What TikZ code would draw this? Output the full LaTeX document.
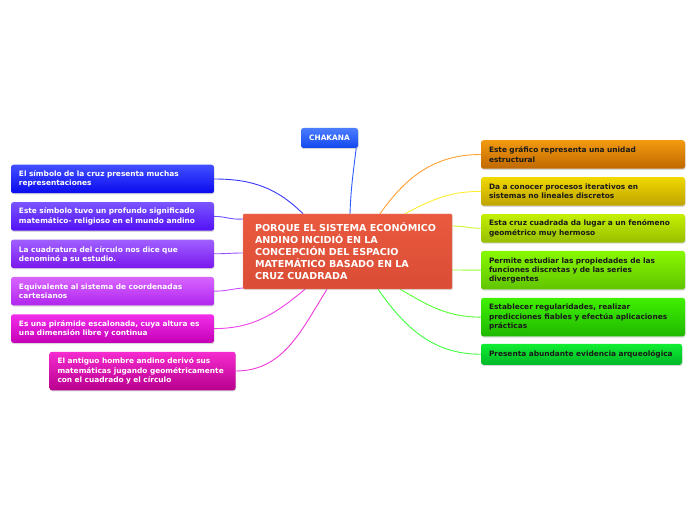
\documentclass[tikz,border=0pt]{standalone}
\usepackage{fontspec}
\setmainfont{DejaVu Sans}
\usepackage{tikz}
\usetikzlibrary{positioning, shadows, backgrounds}
\usepackage{xcolor}
\definecolor{CoreRed}{HTML}{E95A3F}
\definecolor{CoreRedDark}{HTML}{DA4C35}
\definecolor{TextDark}{HTML}{1A1A1A}
\definecolor{ChakTop}{HTML}{4C7DFF}
\definecolor{ChakBot}{HTML}{1148EE}
\definecolor{ChakLink}{HTML}{2E5BFF}
\definecolor{LeftA}{HTML}{4150FF}
\definecolor{LeftAd}{HTML}{0A0AEE}
\definecolor{LeftB}{HTML}{7A55FF}
\definecolor{LeftBd}{HTML}{5210F5}
\definecolor{LeftC}{HTML}{A060FF}
\definecolor{LeftCd}{HTML}{7A18EE}
\definecolor{LeftD}{HTML}{D865FF}
\definecolor{LeftDd}{HTML}{B025EE}
\definecolor{LeftE}{HTML}{F22EEC}
\definecolor{LeftEd}{HTML}{C500B5}
\definecolor{LeftF}{HTML}{F52BCF}
\definecolor{LeftFd}{HTML}{B8008E}
\definecolor{RightA}{HTML}{F39A10}
\definecolor{RightAd}{HTML}{BF6800}
\definecolor{RightB}{HTML}{F0D800}
\definecolor{RightBd}{HTML}{BFA300}
\definecolor{RightC}{HTML}{C4F000}
\definecolor{RightCd}{HTML}{98BE00}
\definecolor{RightD}{HTML}{88F800}
\definecolor{RightDd}{HTML}{60C400}
\definecolor{RightE}{HTML}{40F000}
\definecolor{RightEd}{HTML}{1FB800}
\definecolor{RightF}{HTML}{10EE30}
\definecolor{RightFd}{HTML}{00B828}
\definecolor{LinkLA}{HTML}{3A3AFF}
\definecolor{LinkLB}{HTML}{7050FF}
\definecolor{LinkLC}{HTML}{9A50FF}
\definecolor{LinkLD}{HTML}{C850FF}
\definecolor{LinkLE}{HTML}{F040E8}
\definecolor{LinkLF}{HTML}{F03ADA}
\definecolor{LinkRA}{HTML}{FFA030}
\definecolor{LinkRB}{HTML}{FFEE30}
\definecolor{LinkRC}{HTML}{CCF530}
\definecolor{LinkRD}{HTML}{99FF30}
\definecolor{LinkRE}{HTML}{55FF30}
\definecolor{LinkRF}{HTML}{40FF40}
\newcommand{\leaffont}{\fontsize{7.4}{9.2}\selectfont\bfseries}
\newcommand{\corefont}{\fontsize{9.6}{12}\selectfont\bfseries}
\tikzset{
  corebox/.style={draw=CoreRed!70!white, thin, rounded corners=1pt, align=left,
    text width=185pt, inner xsep=12pt, minimum height=75pt, font=\corefont,
    top color=CoreRed, bottom color=CoreRedDark, text=white,
    drop shadow={opacity=0.3, shadow xshift=0.6pt, shadow yshift=-1.2pt}},
  leaf/.style={rounded corners=2.5pt, align=left, inner xsep=8pt, inner ysep=0pt,
    font=\leaffont, drop shadow={opacity=0.3, shadow xshift=0.6pt, shadow yshift=-1.2pt}},
  lbox/.style 2 args={leaf, text width=187pt, top color=#1, bottom color=#2, text=white},
  rbox/.style 2 args={leaf, text width=188pt, top color=#1, bottom color=#2, text=TextDark},
  two/.style={minimum height=28.5pt},
  three/.style={minimum height=38.5pt},
  one/.style={minimum height=21pt},
  link/.style={line width=0.9pt, draw=#1},
}

\begin{document}
\begin{tikzpicture}[x=1pt, y=1pt]
  \useasboundingbox (0,0) rectangle (696,520);

  % central topic
  \node[corebox] (core) at (347.5,268.5)
    {PORQUE EL SISTEMA ECONÓMICO\\ANDINO INCIDIÓ EN LA\\CONCEPCIÓN DEL ESPACIO\\MATEMÁTICO BASADO EN LA\\CRUZ CUADRADA};
  \node[leaf, top color=ChakTop, bottom color=ChakBot, text=white, one,
    minimum width=57pt, minimum height=20pt, align=center] (chak) at (329.5,382) {CHAKANA};

  % left branch
  \node[lbox={LeftA}{LeftAd}, two] (l1) at (112.5,341)
    {El símbolo de la cruz presenta muchas\\representaciones};
  \node[lbox={LeftB}{LeftBd}, two, below=8.5pt of l1] (l2)
    {Este símbolo tuvo un profundo significado\\matemático- religioso en el mundo andino};
  \node[lbox={LeftC}{LeftCd}, two, below=8.5pt of l2] (l3)
    {La cuadratura del círculo nos dice que\\denominó a su estudio.};
  \node[lbox={LeftD}{LeftDd}, two, below=8.5pt of l3] (l4)
    {Equivalente al sistema de coordenadas\\cartesianos};
  \node[lbox={LeftE}{LeftEd}, two, below=8.5pt of l4] (l5)
    {Es una pirámide escalonada, cuya altura es\\una dimensión libre y continua};
  \node[lbox={LeftF}{LeftFd}, three, text width=170pt] (l6) at (142.5,149)
    {El antiguo hombre andino derivó sus\\matemáticas jugando geométricamente\\con el cuadrado y el círculo};

  % right branch
  \node[rbox={RightA}{RightAd}, two] (r1) at (583,365.5)
    {Este gráfico representa una unidad\\estructural};
  \node[rbox={RightB}{RightBd}, two, below=8pt of r1] (r2)
    {Da a conocer procesos iterativos en\\sistemas no lineales discretos};
  \node[rbox={RightC}{RightCd}, two, below=8pt of r2] (r3)
    {Esta cruz cuadrada da lugar a un fenómeno\\geométrico muy hermoso};
  \node[rbox={RightD}{RightDd}, three, below=8pt of r3] (r4)
    {Permite estudiar las propiedades de las\\funciones discretas y de las series\\divergentes};
  \node[rbox={RightE}{RightEd}, three, below=8pt of r4] (r5)
    {Establecer regularidades, realizar\\predicciones fiables y efectúa aplicaciones\\prácticas};
  \node[rbox={RightF}{RightFd}, one, text width=185pt, below=7pt of r5.south west, anchor=north west] (r6)
    {Presenta abundante evidencia arqueológica};

  % connectors
  \begin{scope}[on background layer]
    \fill[white] (0,0) rectangle (696,520);
    \draw[link=ChakLink] ([xshift=-2pt]chak.south east) to[out=-97, in=88] ([xshift=2.5pt]core.north);
    \draw[link=LinkLA] (l1.east) to[out=0, in=135] ([xshift=-44.5pt]core.north);
    \draw[link=LinkLB] (l2.east) to[out=0, in=185] ([yshift=32.5pt]core.west);
    \draw[link=LinkLC] (l3.east) to[out=0, in=180] ([yshift=-1.5pt]core.west);
    \draw[link=LinkLD] (l4.east) to[out=0, in=185] ([yshift=-36.5pt]core.west);
    \draw[link=LinkLE] (l5.east) to[out=0, in=-140] ([xshift=-42.5pt]core.south);
    \draw[link=LinkLF] (l6.east) to[out=0, in=-122] ([xshift=-20.5pt]core.south);
    \draw[link=LinkRA] ([xshift=32.5pt]core.north) to[out=55, in=180] (r1.west);
    \draw[link=LinkRB] ([xshift=57.5pt]core.north) to[out=28, in=180] (r2.west);
    \draw[link=LinkRC] ([yshift=25.5pt]core.east) to[out=0, in=180] (r3.west);
    \draw[link=LinkRD] ([yshift=-18.5pt]core.east) to[out=0, in=180] (r4.west);
    \draw[link=LinkRE] ([xshift=52.5pt]core.south) to[out=-30, in=180] (r5.west);
    \draw[link=LinkRF] ([xshift=30.5pt]core.south) to[out=-55, in=180] (r6.west);
  \end{scope}
\end{tikzpicture}
\end{document}
